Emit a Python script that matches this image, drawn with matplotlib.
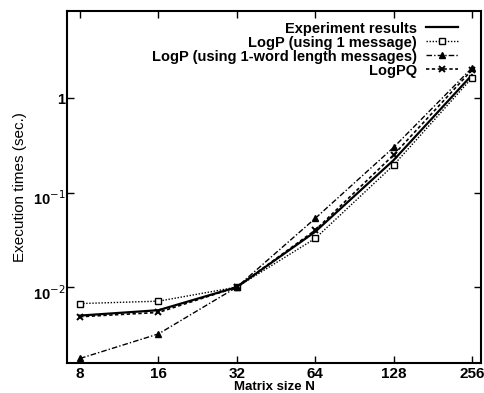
import matplotlib
matplotlib.use('Agg')
import matplotlib.pyplot as plt
from matplotlib.transforms import ScaledTranslation

plt.rcParams['font.family'] = ['Liberation Sans', 'DejaVu Sans']

N = [8, 16, 32, 64, 128, 256]
experiment = [0.0050, 0.0057, 0.0100, 0.0385, 0.22, 1.75]
logp_1msg = [0.0067, 0.0071, 0.0100, 0.0327, 0.195, 1.63]
logp_1word = [0.00176, 0.0032, 0.0100, 0.0533, 0.30, 2.08]
logpq = [0.00486, 0.0054, 0.0100, 0.040, 0.25, 1.98]

fig = plt.figure(figsize=(4.85, 3.93), dpi=100)
ax = fig.add_axes([0.138, 0.076, 0.854, 0.896])

ax.plot(N, experiment, color='black', lw=1.6, label='Experiment results')
ax.plot(N, logp_1msg, color='black', lw=1.0, ls=(0, (1, 1.2)), marker='s',
        ms=5, mfc='white', mew=1.0, label='LogP (using 1 message)')
ax.plot(N, logp_1word, color='black', lw=1.0, ls=(0, (4, 1.5, 1, 1.5)),
        marker='^', ms=5, label='LogP (using 1-word length messages)')
ax.plot(N, logpq, color='black', lw=1.2, ls=(0, (2, 1.5)), marker='x',
        ms=5, mew=1.4, label='LogPQ')

ax.set_xscale('log', base=2)
ax.set_yscale('log')
ax.set_xlim(7.12, 277.7)
ax.set_ylim(0.00157, 8.33)
ax.set_xticks(N)
ax.set_xticklabels([str(n) for n in N], fontweight='bold', fontsize=11)
ax.set_yticks([0.01, 0.1, 1])
ax.set_yticklabels(['10$^{-2}$', '10$^{-1}$', '1'], fontweight='bold', fontsize=10.5)
ax.minorticks_off()
ax.tick_params(direction='in', top=True, right=True, length=5, width=1.0)
ax.tick_params(axis='x', pad=3)
ax.tick_params(axis='y', pad=1)
# exponent sits at the tick, base "10" hangs below it
shift = ScaledTranslation(0, -5 / 100, fig.dpi_scale_trans)
for lab in ax.get_yticklabels()[:2]:
    lab.set_transform(lab.get_transform() + shift)
for s in ax.spines.values():
    s.set_linewidth(1.5)

ax.set_xlabel('Matrix size N', fontweight='bold', fontsize=9.5, labelpad=0)
ax.set_ylabel('Execution times (sec.)', fontsize=11, labelpad=4,
              family=['Liberation Sans Narrow', 'Liberation Sans', 'DejaVu Sans'])

ax.legend(loc='upper right', bbox_to_anchor=(0.965, 0.995), markerfirst=False,
          frameon=False, handlelength=2.2, handletextpad=0.6,
          labelspacing=0.0, borderaxespad=0.2,
          prop={'weight': 'bold', 'size': 10.5})

fig.savefig('out.png', dpi=100)
